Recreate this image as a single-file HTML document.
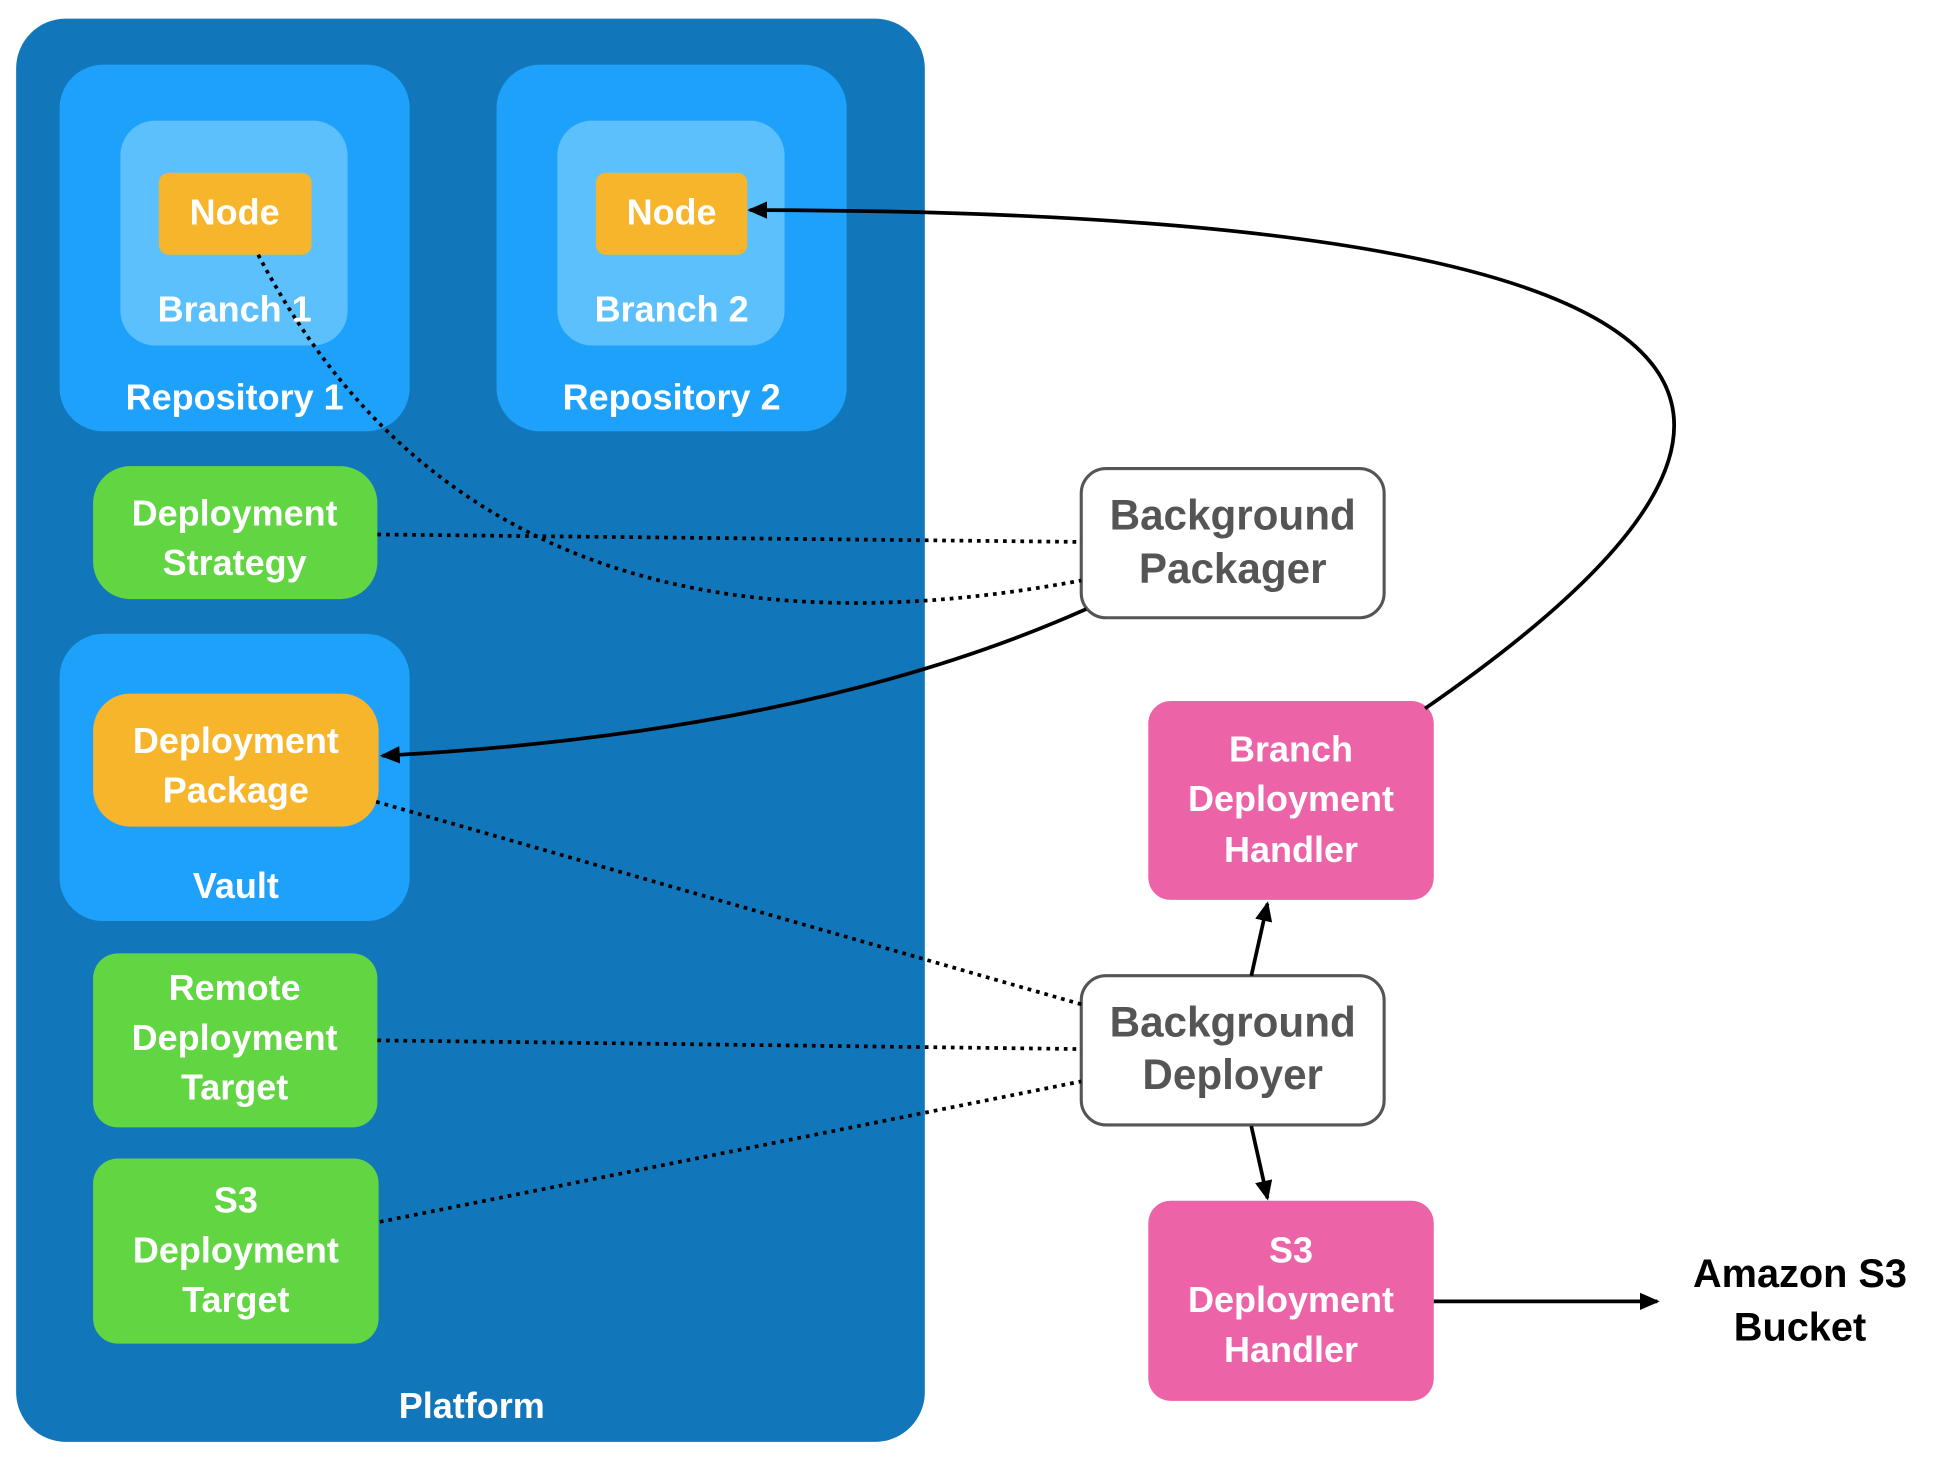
<!DOCTYPE html>
<html><head><meta charset="utf-8"><style>
html,body{margin:0;padding:0;background:#fff;}
svg{display:block;}
text{font-family:"Liberation Sans",sans-serif;text-anchor:middle;dominant-baseline:middle;}
.w{fill:#fff;font-size:29px;font-weight:bold;}
.g{fill:#555;font-size:34px;font-weight:bold;}
.k{fill:#000;font-size:32px;font-weight:bold;}
.d{fill:none;stroke:#000;stroke-width:3;stroke-dasharray:3 4;}
.s{fill:none;stroke:#000;stroke-width:3;}
</style></head><body>
<svg width="1944" height="1458" viewBox="0 0 1566 1173" preserveAspectRatio="none">
<defs>
<marker id="b" markerWidth="16" markerHeight="14" refX="14" refY="7" orient="auto" markerUnits="userSpaceOnUse" viewBox="0 0 16 14"><path d="M0,0 L16,7 L0,14 z" fill="#000"/></marker></defs>
<rect x="13" y="15" width="732" height="1145" rx="40" fill="#1277BA"/>
<text class="w" x="380" y="1133">Platform</text>
<rect x="48" y="52" width="282" height="295" rx="35" fill="#1EA1FB"/>
<text class="w" x="189" y="322">Repository 1</text>
<rect x="97" y="97" width="183" height="181" rx="28" fill="#5BC0FB"/>
<text class="w" x="189" y="251">Branch 1</text>
<rect x="128" y="139" width="123" height="66" rx="8" fill="#F7B52C"/>
<text class="w" x="189" y="173">Node</text>
<rect x="400" y="52" width="282" height="295" rx="35" fill="#1EA1FB"/>
<text class="w" x="541" y="322">Repository 2</text>
<rect x="449" y="97" width="183" height="181" rx="28" fill="#5BC0FB"/>
<text class="w" x="541" y="251">Branch 2</text>
<rect x="480" y="139" width="122" height="66" rx="8" fill="#F7B52C"/>
<text class="w" x="541" y="173">Node</text>
<rect x="75" y="375" width="229" height="107" rx="30" fill="#62D543"/>
<text class="w" x="189" y="415">Deployment</text><text class="w" x="189" y="455">Strategy</text>
<rect x="48" y="510" width="282" height="231" rx="35" fill="#1EA1FB"/>
<text class="w" x="190" y="715">Vault</text>
<rect x="75" y="558" width="230" height="107" rx="30" fill="#F7B52C"/>
<text class="w" x="190" y="598">Deployment</text><text class="w" x="190" y="638">Package</text>
<rect x="75" y="767" width="229" height="140" rx="20" fill="#62D543"/>
<text class="w" x="189" y="797">Remote</text><text class="w" x="189" y="837">Deployment</text><text class="w" x="189" y="877">Target</text>
<rect x="75" y="932" width="230" height="149" rx="20" fill="#62D543"/>
<text class="w" x="190" y="968">S3</text><text class="w" x="190" y="1008">Deployment</text><text class="w" x="190" y="1048">Target</text>
<rect x="871" y="377" width="244" height="120" rx="20" fill="#fff" stroke="#555" stroke-width="2.5"/>
<text class="g" x="993" y="417">Background</text><text class="g" x="993" y="460">Packager</text>
<rect x="871" y="785" width="244" height="120" rx="20" fill="#fff" stroke="#555" stroke-width="2.5"/>
<text class="g" x="993" y="825">Background</text><text class="g" x="993" y="867">Deployer</text>
<rect x="925" y="564" width="230" height="160" rx="18" fill="#EC63A8"/>
<text class="w" x="1040" y="605">Branch</text><text class="w" x="1040" y="645">Deployment</text><text class="w" x="1040" y="686">Handler</text>
<rect x="925" y="966" width="230" height="161" rx="18" fill="#EC63A8"/>
<text class="w" x="1040" y="1008">S3</text><text class="w" x="1040" y="1048">Deployment</text><text class="w" x="1040" y="1088">Handler</text>
<text class="k" x="1450" y="1027">Amazon S3</text><text class="k" x="1450" y="1070">Bucket</text>
<path class="d" d="M208,205 C300,380 480,540 871,467"/>
<path class="d" d="M304,430 L871,436"/>
<path class="d" d="M303,645 L871,808"/>
<path class="d" d="M304,837 L871,844"/>
<path class="d" d="M306,983 L871,870"/>
<path class="s" d="M875,490 Q650,590 308,608" marker-end="url(#b)"/>
<path class="s" d="M1148,570 C1445,365 1520,170 604,169" marker-end="url(#b)"/>
<path class="s" d="M1008,785 L1021,727" marker-end="url(#b)"/>
<path class="s" d="M1008,906 L1021,964" marker-end="url(#b)"/>
<path class="s" d="M1155,1047 L1335,1047" marker-end="url(#b)"/>
</svg>
</body></html>
